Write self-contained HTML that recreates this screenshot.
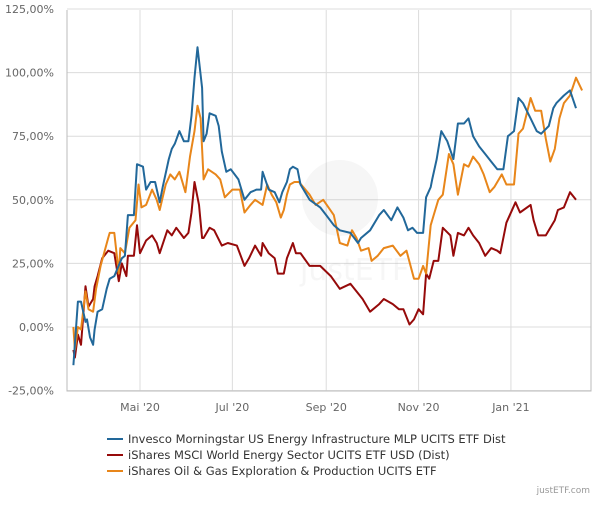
<!DOCTYPE html>
<html><head><meta charset="utf-8"><style>
body{margin:0;background:#fff;font-family:"Liberation Sans",sans-serif}
svg text{font-family:"DejaVu Sans","Liberation Sans",sans-serif}
</style></head><body>
<svg id="chart" width="600" height="500" xmlns="http://www.w3.org/2000/svg">
<g id="grid"></g>
<g opacity="0.07">
<circle cx="340" cy="198" r="38" fill="#888"/>
<text x="300" y="280" font-size="30" fill="#888" font-family="Liberation Serif,serif">justETF</text>
</g>
<g id="series"></g>
<g id="axes"></g>
<g id="legend"></g>
<text x="590" y="493" font-size="9" fill="#999" text-anchor="end">justETF.com</text>
</svg>
<script>
// days relative to 2020-05-01
const yTicks=[-25,0,25,50,75,100,125];
const xTickDays=[0,61,123,184,245];
const xTickLabels=["Mai '20","Jul '20","Sep '20","Nov '20","Jan '21"];
const seriesNames=["Invesco Morningstar US Energy Infrastructure MLP UCITS ETF Dist","iShares MSCI World Energy Sector UCITS ETF USD (Dist)","iShares Oil & Gas Exploration & Production UCITS ETF"];
const seriesColors=["#22689a","#960a0a","#e8861a"];
const blueDays=[-44,-41,-39,-36,-35,-33,-31,-30,-28,-25,-22,-20,-17,-12,-10,-8,-4,-2,2,4,7,10,13,15,19,21,23,26,29,32,34,36,38,41,42,44,46,50,52,54,57,60,65,69,73,77,80,81,85,89,92,94,97,99,101,104,106,112,119,123,128,132,139,144,146,152,158,161,166,170,174,177,180,183,187,189,192,193,196,199,203,207,210,214,217,220,224,228,232,236,240,243,247,250,253,258,262,265,270,273,275,280,284,288,292,294];
const blueVals=[-15,10,10,2,3,-4,-7,-1,6,7,15,19,20,27,28,44,44,64,63,54,57,57,49,55,66,70,72,77,73,73,83,98,110,94,73,76,84,83,79,69,61,62,58,50,53,54,54,61,54,53,49,53,57,62,63,62,56,50,47,44,40,38,37,33,35,38,44,46,42,47,43,38,39,37,37,51,55,58,66,77,73,66,80,80,82,75,71,68,65,62,62,75,77,90,88,82,77,76,79,86,88,91,93,86];
const redDays=[-44,-43,-41,-39,-36,-34,-31,-30,-28,-25,-21,-17,-14,-12,-9,-8,-4,-2,0,4,8,11,13,18,21,24,29,32,34,36,39,41,42,46,49,54,58,64,69,72,76,80,81,85,89,91,95,97,101,103,106,112,119,126,132,139,143,147,152,158,161,167,171,174,178,181,184,187,189,191,194,197,200,205,207,210,214,217,220,224,228,232,236,238,242,248,251,258,260,263,268,274,276,280,284,288,292,294];
const redVals=[-9,-12,-3,-7,16,8,11,16,20,27,30,29,18,25,20,28,28,40,29,34,36,33,29,38,36,39,35,37,45,57,48,35,35,39,38,32,33,32,24,27,32,28,33,29,27,21,21,27,33,29,29,24,24,20,15,17,14,11,6,9,11,9,7,7,1,3,7,5,21,19,26,26,39,36,28,37,36,39,36,33,28,31,30,29,41,49,45,48,42,36,36,42,46,47,53,50];
const orangeDays=[-44,-43,-41,-39,-36,-34,-31,-29,-26,-21,-20,-17,-14,-13,-10,-7,-3,-1,1,4,8,11,13,17,20,23,26,30,33,36,38,40,42,45,50,53,56,61,66,69,73,76,81,84,87,90,93,95,97,99,102,105,112,116,121,128,132,137,140,143,146,151,153,157,161,167,172,176,181,184,187,189,192,194,197,200,204,207,210,214,217,220,224,227,231,234,239,242,247,250,253,258,261,265,268,271,274,277,280,284,288,292,294];
const orangeVals=[0,-9,0,-1,14,7,6,15,24,35,37,37,21,31,29,39,42,56,47,48,54,50,46,56,60,58,61,53,67,77,87,82,58,62,60,58,51,54,54,45,48,50,48,56,52,49,43,46,52,56,57,57,52,48,50,44,33,32,38,35,30,31,26,28,31,32,28,30,19,19,24,21,40,44,50,52,68,64,52,64,63,67,64,60,53,55,60,56,56,76,78,90,85,85,74,65,70,82,88,91,98,93];

const X0=140,PXD=1.514,Y0=327,PXV=63.6/25,L=67,R=591,T=10,B=391;
const xs=d=>X0+d*PXD, ys=v=>Y0-v*PXV;
const NS="http://www.w3.org/2000/svg";
function mk(tag,attrs,parent){const e=document.createElementNS(NS,tag);for(const k in attrs)e.setAttribute(k,attrs[k]);parent.appendChild(e);return e;}
const grid=document.getElementById('grid'),axes=document.getElementById('axes');
yTicks.forEach(v=>{
 const l=mk('line',{x1:L,x2:R,y1:ys(v),y2:ys(v),stroke:'#dcdcdc','stroke-width':1},grid);
 
 
 const t=mk('text',{x:54,y:ys(v)+4,'font-size':11,fill:'#666','text-anchor':'end'},axes);
 t.textContent=v.toFixed(2).replace('.',',')+'%';
 
 
});
xTickDays.forEach((d,i)=>{
 const l=mk('line',{x1:xs(d),x2:xs(d),y1:T,y2:B,stroke:'#dcdcdc','stroke-width':1},grid);
 
 
 const t=mk('text',{x:xs(d),y:411,'font-size':11,fill:'#666','text-anchor':'middle'},axes);
 t.textContent=xTickLabels[i];
 
 
});
const ax=mk('polyline',{points:`${L},${T} ${L},${B} ${R},${B} ${R},${T}`,fill:'none',stroke:'#bbb','stroke-width':1},axes);


const sg=document.getElementById('series');
const all=[[blueDays,blueVals],[redDays,redVals],[orangeDays,orangeVals]];
const names=['line-invesco-mlp','line-ishares-world-energy','line-ishares-oil-gas'];
[1,2,0].forEach(i=>{
 const [ds,vs]=all[i];
 const p=mk('polyline',{points:ds.map((d,j)=>xs(d).toFixed(1)+','+ys(vs[j]).toFixed(1)).join(' '),fill:'none',stroke:seriesColors[i],'stroke-width':2,'stroke-linejoin':'round'},sg);
 
 
});
const lg=document.getElementById('legend');
seriesNames.forEach((n,i)=>{
 const y=439+i*16;
 const g=mk('g',{},lg);
 
 
 mk('line',{x1:107,x2:123,y1:y,y2:y,stroke:seriesColors[i],'stroke-width':2},g);
 const t=mk('text',{x:128,y:y+4,'font-size':11.5,fill:'#333'},g);
 t.textContent=n;
});
</script>
</body></html>
